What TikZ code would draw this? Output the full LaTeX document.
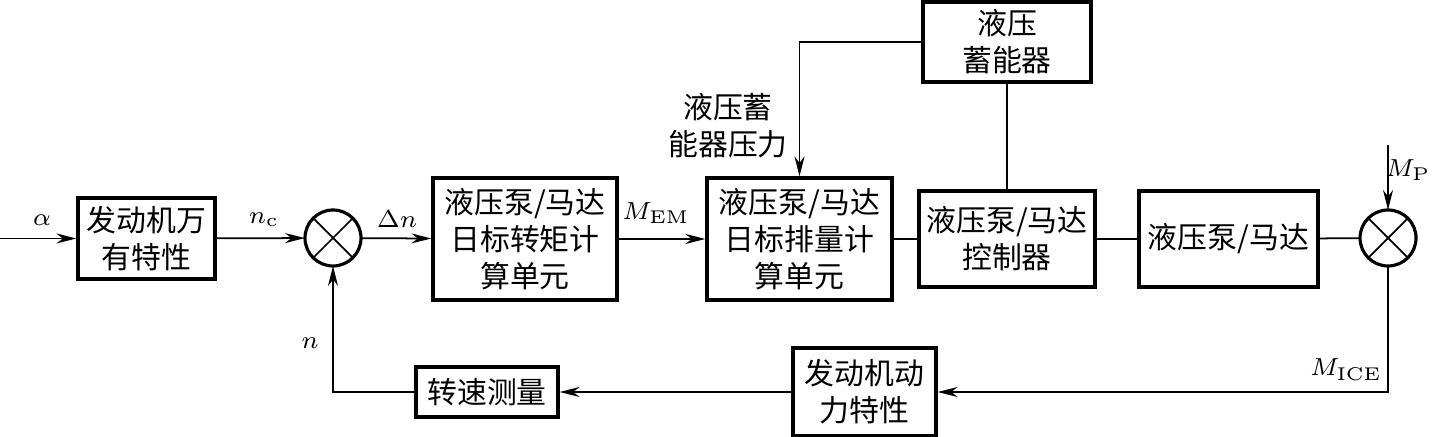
\documentclass[tikz,border=0pt]{standalone}
\usepackage{fontspec}
\newfontfamily\cjk{Noto Sans CJK SC}
\usepackage{tikz}
\usetikzlibrary{arrows.meta}

\begin{document}
\begin{tikzpicture}[every node/.style={font=\cjk\fontsize{8.5}{10.5}\selectfont},
	blk/.style={draw, line width=0.9pt, align=center, inner sep=1pt},
	sumc/.style={draw, circle, line width=0.9pt, minimum size=0.56cm, inner sep=0pt, outer sep=0pt},
	sig/.style={line width=0.5pt, -{Stealth[length=2mm,width=1mm]}},
	wire/.style={line width=0.5pt},
	lbl/.style={font=\fontsize{7.5}{9}\selectfont}]
	\useasboundingbox (0,0) rectangle (14.36,-4.37);
	\coordinate (in) at (0,-2.385); \coordinate (mp) at (13.88,-1.45);
	\node[blk, minimum width=1.37cm, minimum height=0.81cm] (map) at (1.465,-2.385) {发动机万\\有特性};
	\node[sumc] (s1) at (3.33,-2.38) {};
	\node[blk, minimum width=1.84cm, minimum height=1.22cm] (tq) at (5.25,-2.39) {液压泵/马达\\日标转矩计\\算单元};
	\node[blk, minimum width=1.85cm, minimum height=1.22cm] (disp) at (7.995,-2.39) {液压泵/马达\\日标排量计\\算单元};
	\node[blk, minimum width=1.68cm, minimum height=0.80cm] (acc) at (10.07,-0.42) {液压\\蓄能器};
	\node[blk, minimum width=1.76cm, minimum height=0.96cm] (ctrl) at (10.07,-2.39) {液压泵/马达\\控制器};
	\node[blk, minimum width=1.79cm, minimum height=0.96cm] (pump) at (12.285,-2.39) {液压泵/马达};
	\node[sumc] (s2) at (13.88,-2.38) {};
	\node[blk, minimum width=1.43cm, minimum height=0.88cm] (dyn) at (8.645,-3.92) {发动机动\\力特性};
	\node[blk, minimum width=1.42cm, minimum height=0.50cm] (spd) at (4.87,-3.92) {转速测量};
	\foreach \s in {s1,s2} {\draw[wire] (\s.north west) -- (\s.south east) (\s.north east) -- (\s.south west);}
	\draw[sig] (in) -- (map);
	\draw[sig] (map) -- (s1);
	\draw[sig] (s1) -- (tq);
	\draw[sig] (tq) -- (disp);
	\draw[sig] (acc.west) -| (disp.north);
	\draw[wire] (disp) -- (ctrl) (ctrl) -- (pump) (pump) -- (s2) (acc) -- (ctrl);
	\draw[sig] (mp) -- (s2);
	\draw[sig] (s2.south) |- (dyn.east);
	\draw[sig] (dyn) -- (spd);
	\draw[sig] (spd.west) -| (s1.south);
	\node[align=center] (plbl) at (7.28,-1.26) {液压蓄\\能器压力};
	\node[lbl] (la) at (0.42,-2.20) {$\alpha$};
	\node[lbl] (lnc) at (2.64,-2.20) {$n_{\mathrm{c}}$};
	\node[lbl] (ldn) at (3.97,-2.19) {$\Delta n$};
	\node[lbl] (lem) at (6.56,-2.13) {$M_{\mathrm{EM}}$};
	\node[lbl, anchor=east, inner sep=1pt] (lmp) at (14.35,-1.70) {$M_{\mathrm{P}}$};
	\node[lbl] (lice) at (13.46,-3.70) {$M_{\mathrm{ICE}}$};
	\node[lbl] (ln) at (3.10,-3.43) {$n$};
\end{tikzpicture}
\end{document}
